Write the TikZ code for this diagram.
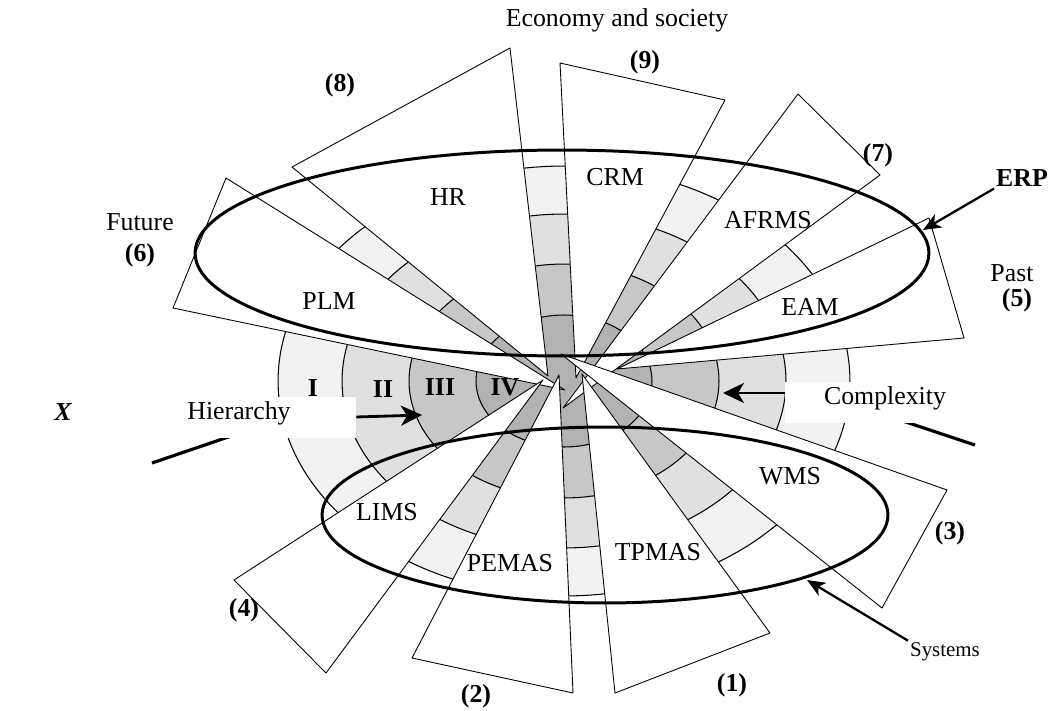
\documentclass[tikz,border=0pt]{standalone}
\usepackage{fontspec}
\setmainfont{Liberation Serif}
\usetikzlibrary{arrows.meta}

\begin{document}
\begin{tikzpicture}[x=0.02cm,y=-0.02cm]

% --------------------
% Parameters (tweak these)
% --------------------
\def\bandC{564,381}   % centre of the shaded rings
\def\txt{\fontsize{14.7}{17}\selectfont}

\tikzset{
  wedge/.style={draw, fill=white, line width=0.5pt, line join=round},
  band/.style={draw, line width=0.6pt},
  ring/.style={draw, line width=1.7pt},
  lbl/.style={font=\txt, inner sep=1pt},
  num/.style={font=\txt\bfseries, inner sep=1pt},
  arrow/.style={-{Stealth[length=4.2mm,width=4mm,inset=1.2mm]}, line width=1.6pt},
  pointer/.style={-{Stealth[length=3.6mm,width=3mm,inset=1mm]}, line width=1.3pt},
  tag/.style={fill=white, inner sep=0pt, minimum height=0.82cm},
  axis/.style={line width=1.8pt}
}

\useasboundingbox (0,0) rectangle (1050,710);
\fill[white] (0,0) rectangle (1050,710);

% --------------------
% Shaded rings (I .. IV)
% --------------------
\draw[band, fill=black!5]  (\bandC) ellipse [x radius=5.72cm, y radius=4.30cm];
\draw[band, fill=black!12] (\bandC) ellipse [x radius=4.44cm, y radius=3.34cm];
\draw[band, fill=black!22] (\bandC) ellipse [x radius=3.10cm, y radius=2.34cm];
\draw[band, fill=black!30] (\bandC) ellipse [x radius=1.76cm, y radius=1.32cm];

% --------------------
% Axis stubs
% --------------------
\coordinate (axL1) at (152,463);
\coordinate (axL2) at (240,433);
\coordinate (axR1) at (900,420);
\coordinate (axR2) at (975,445);
\draw[axis] (axL1) -- (axL2);
\draw[axis] (axR1) -- (axR2);

% --------------------
% Wedges (apex, far corners)
% --------------------
\foreach \ax/\ay/\bx/\by/\cx/\cy in {
    576/378/560/63/725/100,    % (9) CRM
    548/376/292/167/510/48,    % (8) HR
    563/408/798/94/880/175,    % (7) AFRMS
    565/390/226/178/173/308,   % (6) PLM
    617/369/929/218/964/338,   % (5) EAM
    561/354/947/490/882/608,   % (3) WMS
    582/374/770/633/615/693,   % (1) TPMAS
    559/375/573/693/412/658,   % (2) PEMAS
    543/380/326/673/234/580}   % (4) LIMS
  \draw[wedge] (\ax,\ay) -- (\bx,\by) -- (\cx,\cy) -- cycle;

% --------------------
% ERP and Systems rings
% --------------------
\draw[ring] (562,253) ellipse [x radius=7.34cm, y radius=2.06cm];
\draw[ring] (605,515) ellipse [x radius=5.66cm, y radius=1.76cm];

% --------------------
% Axis tags with arrows
% --------------------
\node[tag, minimum width=3.52cm] (hierbox) at (268,417) {};
\node[lbl] (hier) at (239,413) {Hierarchy};
\coordinate (hierto) at (422,415);
\draw[arrow] (hierbox.east) -- (hierto);

\node[tag, minimum width=3.3cm] (cplxbox) at (867,402) {};
\node[lbl] (cplx) at (885,398) {Complexity};
\coordinate (cplxfrom) at (785,393);
\coordinate (cplxto) at (723,393);
\draw[arrow] (cplxfrom) -- (cplxto);

% ring numerals
\node[num] (r1) at (313,388) {I};
\node[num] (r2) at (383,389) {II};
\node[num] (r3) at (440,387) {III};
\node[num] (r4) at (505,387) {IV};

% --------------------
% System names
% --------------------
\node[lbl] (hr)    at (448,197) {HR};
\node[lbl] (crm)   at (615,177) {CRM};
\node[lbl] (afrms) at (768,220) {AFRMS};
\node[lbl] (plm)   at (329,301) {PLM};
\node[lbl] (eam)   at (810,307) {EAM};
\node[lbl] (wms)   at (790,476) {WMS};
\node[lbl] (lims)  at (387,512) {LIMS};
\node[lbl] (pemas) at (510,563) {PEMAS};
\node[lbl] (tpmas) at (658,552) {TPMAS};

% --------------------
% Outer labels
% --------------------
\node[lbl] (econ)   at (617,20)  {Economy and society};
\node[num] (n9)     at (645,62)  {(9)};
\node[num] (n8)     at (340,85)  {(8)};
\node[num] (n7)     at (878,155) {(7)};
\node[lbl] (future) at (140,222) {Future};
\node[num] (n6)     at (140,255) {(6)};
\node[lbl] (past)   at (1012,273) {Past};
\node[num] (n5)     at (1017,300) {(5)};
\node[num] (n3)     at (950,533) {(3)};
\node[num] (n4)     at (244,610) {(4)};
\node[num] (n2)     at (476,696) {(2)};
\node[num] (n1)     at (732,685) {(1)};
\node[font=\txt\bfseries\itshape] (xax) at (63,412) {X};

\node[num] (erp) at (1022,178) {ERP};
\coordinate (erpto) at (923,230);
\draw[pointer] (erp.south west) -- (erpto);

\node[font=\fontsize{11.9}{14}\selectfont, inner sep=1pt] (sys) at (945,652) {Systems};
\coordinate (systo) at (807,580);
\draw[pointer] (sys.north west) -- (systo);

\end{tikzpicture}
\end{document}
